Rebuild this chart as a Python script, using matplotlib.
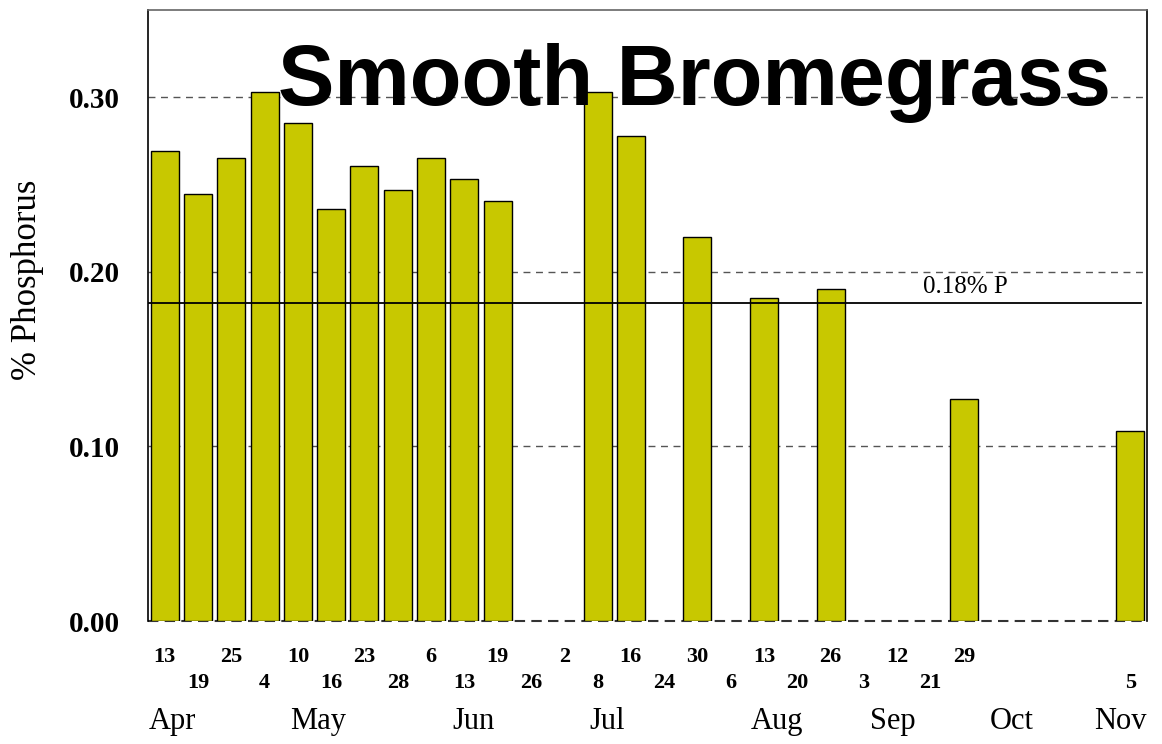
import numpy as np
import matplotlib.pyplot as plt

# ============================================================
# DATA
# ============================================================

day_labels = ["13", "19", "25", "4", "10", "16", "23", "28", "6", "13",
              "19", "26", "2", "8", "16", "24", "30", "6", "13", "20",
              "26", "3", "12", "21", "29", "", "", "", "", "5"]

# % phosphorus per sampling slot (None = not sampled)
phosphorus = [0.269, 0.2445, 0.265, 0.303, 0.285, 0.236, 0.2605, 0.247, 0.265, 0.253,
              0.2405, None, None, 0.303, 0.278, None, 0.220, None, 0.185, None,
              0.190, None, None, None, 0.127, None, None, None, None, 0.109]

months = ["Apr", "May", "Jun", "Jul", "Aug", "Sep", "Oct", "Nov"]
month_pos = [0.22, 4.6, 9.26, 13.28, 18.4, 21.87, 25.45, 28.7]

critical_level = 0.182
critical_label = "0.18% P"

# ============================================================
# FIGURE
# ============================================================

fig = plt.figure(figsize=(11.62, 7.44), dpi=100)
ax = fig.add_axes([0.1274, 0.1653, 0.8597, 0.8213])

serif = "Liberation Serif"
sans = "Liberation Sans"

slots = np.arange(len(phosphorus))
heights = [v if v is not None else 0 for v in phosphorus]
mask = [v is not None for v in phosphorus]

ax.bar(
    slots[mask],
    np.array(heights)[mask],
    width=0.84,
    color='#c8c800',
    edgecolor='black',
    linewidth=1,
    zorder=3
)

# dashed gridlines behind bars
for yv in [0.1, 0.2, 0.3]:
    ax.axhline(yv, color='#555555', linestyle=(0, (5, 4)), linewidth=1, zorder=1)

# baseline
ax.axhline(0, color='#333333', linestyle=(0, (5, 3)), linewidth=1.5,
           zorder=2, clip_on=False)

# critical level line
ax.axhline(critical_level, xmax=0.994, color='black', linewidth=1.3, zorder=4)
ax.text(24.06, critical_level + 0.006, critical_label, ha='center', va='baseline',
        fontsize=18, family=serif, zorder=5)

ax.set_xlim(-0.5, len(phosphorus) - 0.5)
ax.set_ylim(0, 0.35)

ax.set_yticks([0.0, 0.1, 0.2, 0.3])
ax.set_yticklabels(["0.00", "0.10", "0.20", "0.30"], fontsize=21,
                   fontweight='bold', family=serif)
ax.tick_params(axis='y', length=0, pad=20)
ax.set_xticks([])

ax.spines['bottom'].set_visible(False)
for side in ['left', 'right', 'top']:
    ax.spines[side].set_linewidth(1.2)
ax.spines['top'].set_color('#666666')

# day labels in two staggered rows
xform = ax.get_xaxis_transform()
for i, lab in enumerate(day_labels):
    row_y = -0.059 if i % 2 == 0 else -0.1015
    ax.text(i, row_y, lab, transform=xform, ha='center', va='center',
            fontsize=16, fontweight='bold', family=serif)

for m, p in zip(months, month_pos):
    ax.text(p, -0.165, m, transform=xform, ha='center', va='center',
            fontsize=22, family=serif)

ax.text(-0.121, 0.558, "% Phosphorus", transform=ax.transAxes, rotation=90,
        ha='center', va='center', fontsize=25, family=serif)

ax.text(0.5475, 0.8445, "Smooth Bromegrass", transform=ax.transAxes,
        ha='center', va='baseline', fontsize=61, fontweight='bold',
        family=sans, zorder=6)

fig.savefig("out.png", dpi=100)
